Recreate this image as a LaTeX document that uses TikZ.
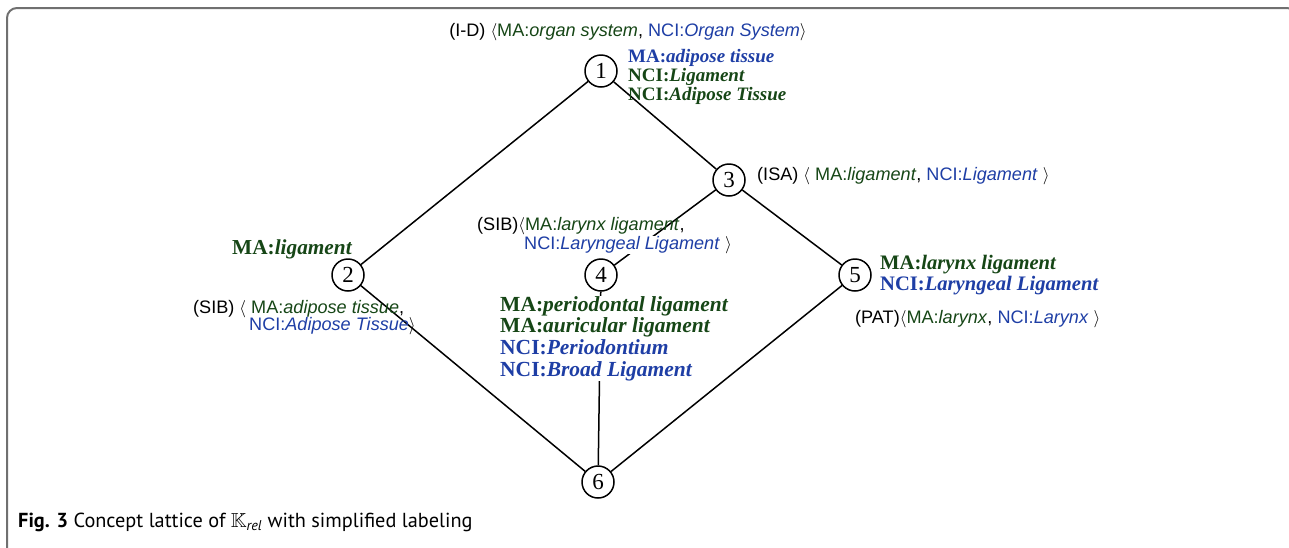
\documentclass[tikz,border=0pt]{standalone}
\usepackage{amsmath}
\usepackage{amssymb}
\usepackage{fontspec}
\setmainfont{Liberation Serif}
\setsansfont{Liberation Sans}
\newfontfamily\capfont{PT Sans}
\definecolor{mygreen}{RGB}{22,70,22}
\definecolor{myblue}{RGB}{30,62,165}
\definecolor{framegray}{RGB}{112,112,112}
\newcommand{\gma}[1]{\textcolor{mygreen}{MA:\textit{#1}}}
\newcommand{\bnci}[1]{\textcolor{myblue}{NCI:\textit{#1}}}
\newcommand{\cgma}[1]{\textcolor{mygreen}{\textbf{MA:\textit{#1}}}}
\newcommand{\cbma}[1]{\textcolor{myblue}{\textbf{MA:\textit{#1}}}}
\newcommand{\cgnci}[1]{\textcolor{mygreen}{\textbf{NCI:\textit{#1}}}}
\newcommand{\cbnci}[1]{\textcolor{myblue}{\textbf{NCI:\textit{#1}}}}
\tikzset{
  cnode/.style={circle, draw, line width=1.5pt, minimum size=32pt, inner sep=0pt,
    font=\fontsize{23}{23}\selectfont},
  edge/.style={line width=1.5pt},
  rel/.style={inner sep=0pt, anchor=west, font=\sffamily\fontsize{18.1}{18}\selectfont},
  conc/.style={inner sep=0pt, anchor=west, align=left},
}
\begin{document}
\begin{tikzpicture}[x=1pt,y=-1pt]
\useasboundingbox (0,0) rectangle (1289,547);
\draw[framegray, line width=2pt, rounded corners=10pt] (7,560) -- (7,8) -- (1297,8) -- (1297,560);

\node[cnode] (n1) at (601,71) {1};
\node[cnode] (n3) at (729,180) {3};
\node[cnode] (n2) at (348,275) {2};
\node[cnode] (n4) at (601,275) {4};
\node[cnode] (n5) at (855,275) {5};
\node[cnode] (n6) at (598,482) {6};

\draw[edge] (n1) -- (n2);
\draw[edge] (n1) -- (n3);
\draw[edge] (n3) -- (n4);
\draw[edge] (n3) -- (n5);
\draw[edge] (n2) -- (n6);
\draw[edge] (n4) -- (n6);

\node[rel, anchor=center] (tid) at (628,32) {(I-D) $\langle$\gma{organ system}, \bnci{Organ System}$\rangle$};
\node[rel] (tisa) at (757,176) {(ISA) $\langle$ \gma{ligament}, \bnci{Ligament} $\rangle$};
\node[rel] (tsib4a) at (477,226) {(SIB)$\langle$\gma{larynx ligament},};
\node[rel, fill=white] (tsib4b) at (524,245) {\bnci{Laryngeal Ligament} $\rangle$};
\node[rel] (tsib2a) at (193,309) {(SIB) $\langle$ \gma{adipose tissue},};
\node[rel] (tsib2b) at (249,326) {\bnci{Adipose Tissue}$\rangle$};
\node[rel] (tpat) at (855,319) {(PAT)$\langle$\gma{larynx}, \bnci{Larynx} $\rangle$};

\node[conc, font=\fontsize{19}{19}\selectfont] (c1) at (628,77)
  {\cbma{adipose tissue}\\ \cgnci{Ligament}\\ \cgnci{Adipose Tissue}};
\node[conc, font=\fontsize{21.3}{21}\selectfont] (c2) at (232,249) {\cgma{ligament}};
\node[conc, fill=white, font=\fontsize{21.5}{21.7}\selectfont] (c4) at (500,338.5)
  {\cgma{periodontal ligament}\\ \cgma{auricular ligament}\\ \cbnci{Periodontium}\\ \cbnci{Broad Ligament}};
\node[conc, font=\fontsize{20.6}{21}\selectfont] (c5) at (880,275.5)
  {\cgma{larynx ligament}\\ \cbnci{Laryngeal Ligament}};

\draw[edge] (n5) -- (n6);

\node[inner sep=0pt, anchor=west, font=\capfont\fontsize{20.3}{20}\selectfont] (cap) at (18,522)
  {\textbf{Fig. 3} Concept lattice of $\mathbb{K}_{\text{\itshape rel}}$ with simplified labeling};
\end{tikzpicture}
\end{document}
